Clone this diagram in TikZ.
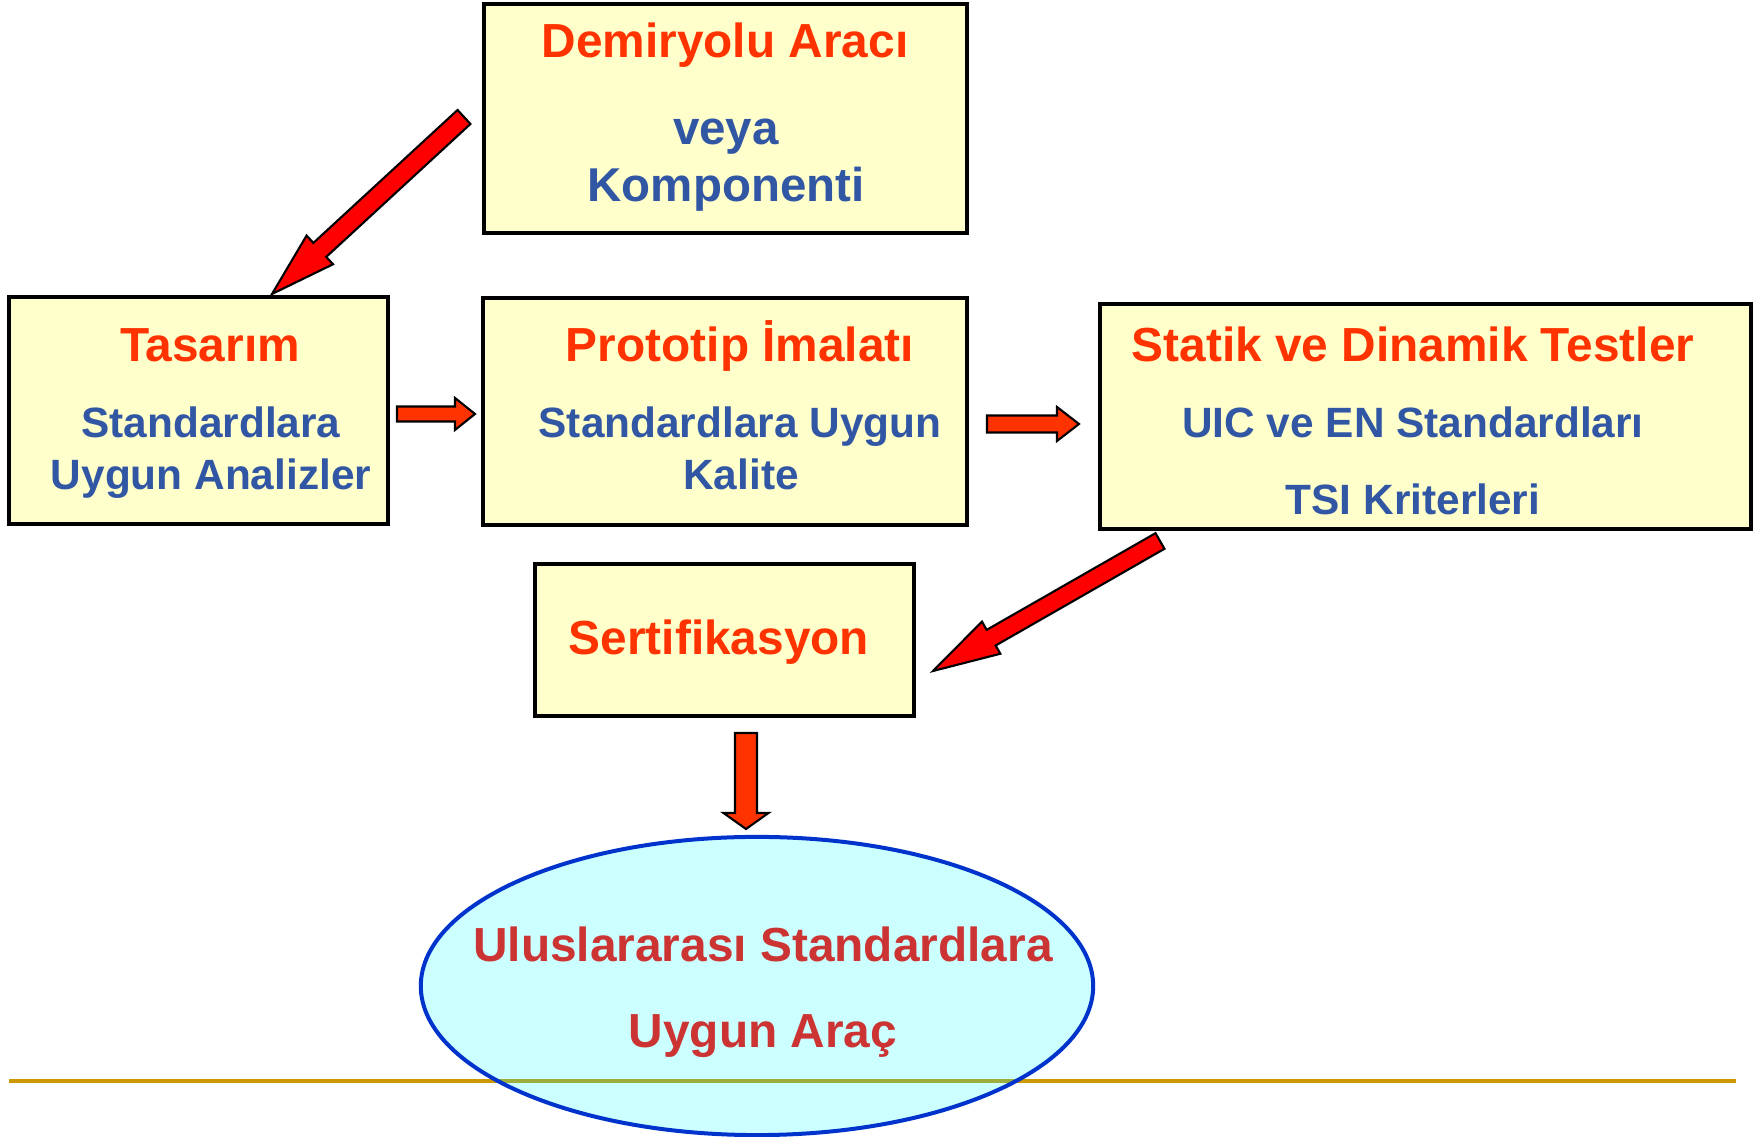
\documentclass[tikz,border=0pt]{standalone}
\usepackage{fontspec}
\setmainfont{Liberation Sans}
\usetikzlibrary{calc,shapes.geometric}

\definecolor{boxfill}{HTML}{FFFFCC}
\definecolor{ellfill}{HTML}{CCFFFF}
\definecolor{ellborder}{HTML}{0033CC}
\definecolor{titlered}{HTML}{FF3300}
\definecolor{bodyblue}{HTML}{3157A4}
\definecolor{arachred}{HTML}{CC3333}
\definecolor{rulegold}{HTML}{CC9900}
\definecolor{ruleolive}{HTML}{9EAE3C}
\definecolor{arrowred}{HTML}{FF0000}
\definecolor{arroworange}{HTML}{FF3300}

\tikzset{
  stagebox/.style={draw=black,line width=0.034cm,fill=boxfill,rectangle,inner sep=0,outer sep=0},
  title/.style={anchor=base,inner sep=0,text=titlered,font=\bfseries\fontsize{13.6}{16}\selectfont},
  body/.style={anchor=base,inner sep=0,text=bodyblue,font=\bfseries\fontsize{12.05}{14}\selectfont},
  bigbody/.style={body,font=\bfseries\fontsize{13.5}{16}\selectfont},
  arachtext/.style={anchor=base,inner sep=0,text=arachred,font=\bfseries\fontsize{13.6}{16}\selectfont},
  arrowline/.style={draw=black,line width=0.6pt,line join=miter}
}

\newcommand{\blockarrow}[6]{%
  \coordinate (hb) at ($(#2)!#5!(#1)$);
  \draw[arrowline,fill=#6] ($(#1)!#3!90:(#2)$) -- ($(hb)!#3!90:(#2)$) -- ($(hb)!#4!90:(#2)$) -- (#2)
    -- ($(hb)!#4!-90:(#2)$) -- ($(hb)!#3!-90:(#2)$) -- ($(#1)!#3!-90:(#2)$) -- cycle;}

\begin{document}
\begin{tikzpicture}[x=0.01cm,y=-0.01cm]
	\useasboundingbox (0,0) rectangle (1756,1137);
	\node[stagebox,minimum width=4.83cm,minimum height=2.29cm] (arac) at (725.5,118.5) {};
	\node[stagebox,minimum width=3.79cm,minimum height=2.27cm] (tasarim) at (198.5,410.5) {};
	\node[stagebox,minimum width=4.84cm,minimum height=2.27cm] (prototip) at (725,411.5) {};
	\node[stagebox,minimum width=6.51cm,minimum height=2.25cm] (testler) at (1425.5,416.5) {};
	\node[stagebox,minimum width=3.79cm,minimum height=1.52cm] (sertifika) at (724.5,640) {};

	\node[title] (arac-title) at (725,58) {Demiryolu Aracı};
	\node[bigbody] (arac-veya) at (726,145) {veya};
	\node[bigbody] (arac-komp) at (726,202) {Komponenti};
	\node[title] (tasarim-title) at (210,362) {Tasarım};
	\node[body] (tasarim-l1) at (211,438) {Standardlara};
	\node[body] (tasarim-l2) at (211,490) {Uygun Analizler};
	\node[title] (prototip-title) at (740,362) {Prototip İmalatı};
	\node[body] (prototip-l1) at (740,438) {Standardlara Uygun};
	\node[body] (prototip-l2) at (741,490) {Kalite};
	\node[title] (testler-title) at (1413,362) {Statik ve Dinamik Testler};
	\node[body] (testler-l1) at (1413,438) {UIC ve EN Standardları};
	\node[body] (testler-l2) at (1413,515) {TSI Kriterleri};
	\node[title] (sertifika-title) at (719,655) {Sertifikasyon};

	\coordinate (a1-tail) at (464,117);
	\coordinate (a1-tip) at (272,294);
	\coordinate (a2-tail) at (397,414);
	\coordinate (a2-tip) at (475,414);
	\coordinate (a3-tail) at (987,424);
	\coordinate (a3-tip) at (1079,424);
	\coordinate (a4-tail) at (1160,541);
	\coordinate (a4-tip) at (933,671);
	\coordinate (a5-tail) at (746,733);
	\coordinate (a5-tip) at (746,829);
	\blockarrow{a1-tail}{a1-tip}{0.095cm}{0.195cm}{0.65cm}{arrowred}
	\blockarrow{a2-tail}{a2-tip}{0.075cm}{0.16cm}{0.2cm}{arroworange}
	\blockarrow{a3-tail}{a3-tip}{0.085cm}{0.17cm}{0.22cm}{arroworange}
	\blockarrow{a4-tail}{a4-tip}{0.09cm}{0.185cm}{0.67cm}{arrowred}
	\blockarrow{a5-tail}{a5-tip}{0.11cm}{0.225cm}{0.16cm}{arroworange}

	\node[ellipse,fill=ellfill,inner sep=0,minimum width=6.72cm,minimum height=2.98cm] (uygunarac) at (757,986) {};
	\draw[rulegold,line width=0.04cm] (9,1081) -- (1736,1081);
	\begin{scope}
		\clip (uygunarac.center) ellipse [x radius=3.36cm,y radius=1.49cm];
		\draw[ruleolive,line width=0.04cm] (9,1081) -- (1736,1081);
	\end{scope}
	\draw[ellborder,line width=0.04cm] (uygunarac.center) ellipse [x radius=3.36cm,y radius=1.49cm];
	\node[arachtext] (uygunarac-l1) at (763,962) {Uluslararası Standardlara};
	\node[arachtext] (uygunarac-l2) at (763,1048) {Uygun Araç};
\end{tikzpicture}
\end{document}
